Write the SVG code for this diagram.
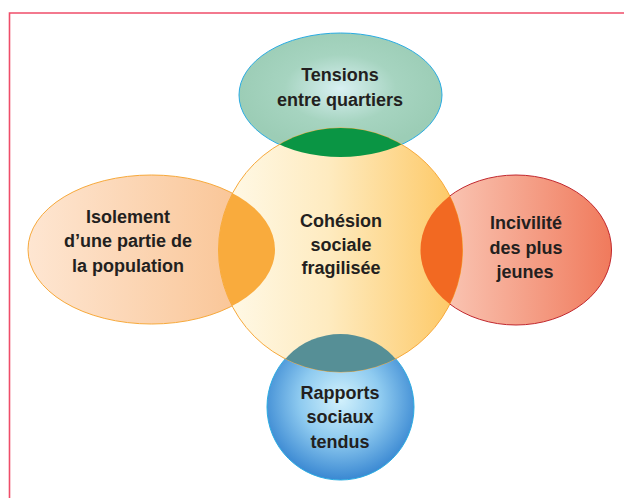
<svg xmlns="http://www.w3.org/2000/svg" width="624" height="498" viewBox="0 0 624 498">
<style>
.lbl{font-family:"Liberation Sans",Arial,sans-serif;font-weight:bold;font-size:18px;fill:#231f20;text-anchor:middle}
.lens{stroke:none}
</style>
<defs>
<radialGradient id="gTop" cx="0.5" cy="0.45" r="0.5">
<stop offset="0" stop-color="#d8f0f2"/><stop offset="0.55" stop-color="#a6d4c0"/><stop offset="1" stop-color="#9ccdb6"/>
</radialGradient>
<linearGradient id="gCenter" x1="0" y1="0" x2="1" y2="0">
<stop offset="0" stop-color="#fffaea"/><stop offset="0.45" stop-color="#feebc0"/><stop offset="1" stop-color="#fdc660"/>
</linearGradient>
<linearGradient id="gLeft" x1="0" y1="0" x2="1" y2="0">
<stop offset="0" stop-color="#fee6d2"/><stop offset="1" stop-color="#f9c08d"/>
</linearGradient>
<linearGradient id="gRight" x1="0" y1="0" x2="1" y2="0">
<stop offset="0" stop-color="#fbd0c0"/><stop offset="1" stop-color="#f07a5c"/>
</linearGradient>
<radialGradient id="gBottom" cx="0.5" cy="0.45" r="0.55">
<stop offset="0" stop-color="#d2f1fc"/><stop offset="0.5" stop-color="#8fcbf0"/><stop offset="1" stop-color="#3a88d2"/>
</radialGradient>
<clipPath id="cCenter"><circle cx="340.5" cy="250" r="122"/></clipPath>
</defs>

<path d="M9.5 498 V13 H624" fill="none" stroke="#ef4d69" stroke-width="1.6"/>

<g id="node-tensions">
<ellipse cx="340.5" cy="95" rx="101.5" ry="62" fill="url(#gTop)" stroke="#29abe2" stroke-width="1"/>
</g>
<g id="node-isolement">
<ellipse cx="151.5" cy="249.5" rx="123.5" ry="74.5" fill="url(#gLeft)" stroke="#f7a93b" stroke-width="1"/>
</g>
<g id="node-incivilite">
<ellipse cx="516" cy="250" rx="95.5" ry="75" fill="url(#gRight)" stroke="#c1272d" stroke-width="1"/>
</g>
<g id="node-rapports">
<ellipse cx="340.5" cy="407" rx="73.5" ry="73" fill="url(#gBottom)" stroke="#29abe2" stroke-width="1"/>
</g>
<g id="node-cohesion">
<circle cx="340.5" cy="250" r="122" fill="url(#gCenter)" stroke="#f7a93b" stroke-width="1"/>
</g>

<g id="connectors" clip-path="url(#cCenter)">
<ellipse class="lens" cx="340.5" cy="95" rx="101.5" ry="62" fill="#0a9544"/>
<ellipse class="lens" cx="151.5" cy="249.5" rx="123.5" ry="74.5" fill="#f9ab3d"/>
<ellipse class="lens" cx="516" cy="250" rx="95.5" ry="75" fill="#f26922"/>
<ellipse class="lens" cx="340.5" cy="407" rx="73.5" ry="73" fill="#568f96"/>
</g>

<g id="labels">
<text class="lbl" x="340" y="81">Tensions</text>
<text class="lbl" x="340" y="106">entre quartiers</text>
<text class="lbl" x="128" y="223">Isolement</text>
<text class="lbl" x="128" y="247">d’une partie de</text>
<text class="lbl" x="128" y="272">la population</text>
<text class="lbl" x="341" y="227">Cohésion</text>
<text class="lbl" x="341" y="251">sociale</text>
<text class="lbl" x="341" y="274">fragilisée</text>
<text class="lbl" x="526" y="229">Incivilité</text>
<text class="lbl" x="526" y="254">des plus</text>
<text class="lbl" x="525" y="278">jeunes</text>
<text class="lbl" x="340" y="399">Rapports</text>
<text class="lbl" x="340" y="423">sociaux</text>
<text class="lbl" x="340" y="448">tendus</text>
</g>
</svg>
